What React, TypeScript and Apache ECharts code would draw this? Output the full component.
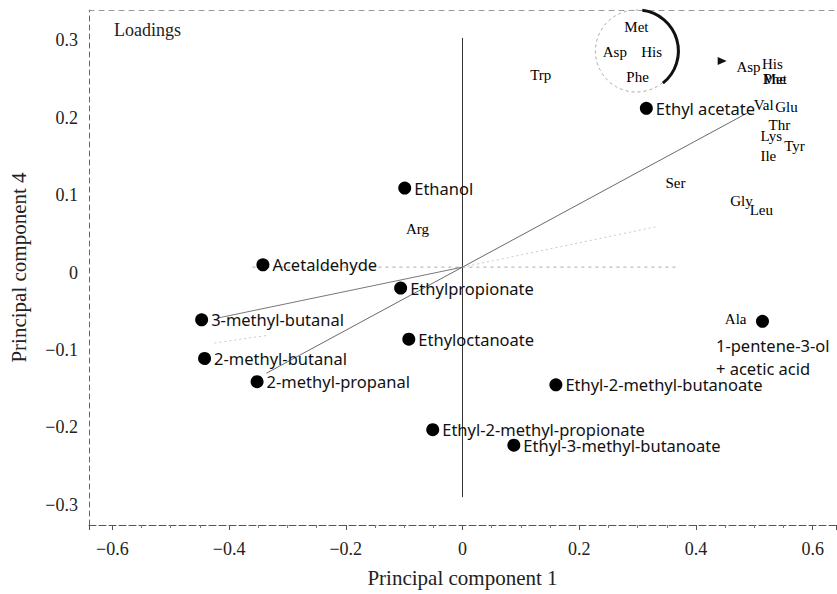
import React, { useEffect, useRef } from "react";
import * as echarts from "echarts";

// Compound loadings (filled dots)
const compoundNames = [
  "Acetaldehyde",
  "Ethanol",
  "Ethyl acetate",
  "Ethylpropionate",
  "3-methyl-butanal",
  "Ethyloctanoate",
  "2-methyl-butanal",
  "2-methyl-propanal",
  "Ethyl-2-methyl-butanoate",
  "Ethyl-2-methyl-propionate",
  "Ethyl-3-methyl-butanoate",
];
const compoundPC1 = [-0.342, -0.099, 0.315, -0.106, -0.447, -0.092, -0.442, -0.352, 0.16, -0.051, 0.088];
const compoundPC4 = [0.01, 0.109, 0.212, -0.02, -0.061, -0.086, -0.111, -0.141, -0.145, -0.203, -0.223];

// point with two-line label below-left
const pentenePoint = { name: "1-pentene-3-ol\n+ acetic acid", pc1: 0.514, pc4: -0.063 };

// Amino acid loadings (text only)
const aminoNames = ["Trp", "Arg", "Ser", "Gly", "Leu", "Val", "Glu", "Thr", "Lys", "Tyr", "Ile", "Asp", "His", "Met", "Phe", "Ala"];
const aminoPC1 = [0.134, -0.077, 0.365, 0.478, 0.512, 0.516, 0.555, 0.543, 0.529, 0.569, 0.524, 0.49, 0.531, 0.535, 0.535, 0.468];
const aminoPC4 = [0.255, 0.056, 0.115, 0.092, 0.081, 0.216, 0.214, 0.19, 0.176, 0.163, 0.15, 0.265, 0.269, 0.25, 0.25, -0.06];

// Magnified inset (circle)
const insetNames = ["Met", "Asp", "His", "Phe"];
const insetPC1 = [0.298, 0.261, 0.324, 0.3];
const insetPC4 = [0.317, 0.285, 0.285, 0.252];
const insetCenter = [0.298, 0.286];
const arrowPoint = [0.445, 0.273];

// Reference lines
const verticalLine = [[0, -0.29], [0, 0.303]];
const zeroLine = [[-0.36, 0.007], [0.37, 0.007]];
const steepLine = [[-0.336, -0.13], [0.488, 0.206]];
const flatLineLeft = [[-0.421, -0.059], [0, 0.007]];
const flatLineRight = [[0, 0.007], [0.331, 0.059]];
const faintLine = [[-0.425, -0.091], [-0.333, -0.081]];

const xRange = [-0.64, 0.64];
const yRange = [-0.326, 0.339];

const serif = "'Liberation Serif', 'Times New Roman', serif";
const sans = "'Noto Sans', sans-serif";

const fmt = (v: number) => {
  const r = Math.round(v * 10) / 10;
  if (Math.abs(r) < 1e-9) return "0";
  return (r < 0 ? "\u2212" : "") + Math.abs(r).toFixed(1);
};

function lineSeries(data: number[][], color: string, width: number, type: any) {
  return {
    type: "line",
    data,
    symbol: "none",
    silent: true,
    lineStyle: { color, width, type },
    z: 1,
  };
}

const textLabel = {
  show: true,
  position: ["50%", "50%"],
  align: "center",
  verticalAlign: "middle",
  formatter: (p: any) => p.name,
  fontFamily: serif,
  fontSize: 15,
  color: "#000",
  textBorderWidth: 0,
  textBorderColor: "#000",
  textShadowBlur: 0,
};

export default function App() {
  const ref = useRef<HTMLDivElement>(null);
  useEffect(() => {
    if (!ref.current) return;
    const chart = echarts.init(ref.current, undefined, { renderer: "svg" });
    const option: any = {
      animation: false,
      backgroundColor: "#fff",
      title: {
        text: "Loadings",
        left: 109,
        top: 16,
        textStyle: { fontFamily: serif, fontSize: 18, fontWeight: "normal", color: "#222" },
      },
      grid: { left: 88, right: 1, top: 10, bottom: 69 },
      xAxis: [
        {
          type: "value",
          min: xRange[0],
          max: xRange[1],
          splitNumber: 6,
          name: "Principal component 1",
          nameLocation: "middle",
          nameGap: 42,
          nameTextStyle: { fontFamily: serif, fontSize: 21, color: "#222" },
          axisLine: { show: true, onZero: false, lineStyle: { color: "#555", width: 1, type: [7, 3] } },
          axisTick: { show: true, length: 5, lineStyle: { color: "#555" } },
          minorTick: { show: true, splitNumber: 4, length: 3, lineStyle: { color: "#777" } },
          splitLine: { show: false },
          axisLabel: {
            showMinLabel: false,
            showMaxLabel: false,
            margin: 15,
            fontFamily: serif,
            fontSize: 18,
            color: "#222",
            formatter: fmt,
          },
        },
        {
          type: "value",
          position: "top",
          min: xRange[0],
          max: xRange[1],
          axisLine: { show: true, onZero: false, lineStyle: { color: "#999", width: 1, type: [5, 5] } },
          axisTick: { show: false },
          axisLabel: { show: false },
          splitLine: { show: false },
        },
      ],
      yAxis: {
        type: "value",
        min: yRange[0],
        max: yRange[1],
        splitNumber: 6,
        name: "Principal component 4",
        nameLocation: "middle",
        nameGap: 60,
        nameTextStyle: { fontFamily: serif, fontSize: 21, color: "#222" },
        axisLine: { show: true, onZero: false, lineStyle: { color: "#666", width: 1, type: [5, 4] } },
        axisTick: { show: false },
        splitLine: { show: false },
        axisLabel: {
          showMinLabel: false,
          showMaxLabel: false,
          margin: 11,
          fontFamily: serif,
          fontSize: 18,
          color: "#222",
          formatter: fmt,
        },
      },
      series: [
        lineSeries(verticalLine, "#333", 1, "solid"),
        lineSeries(zeroLine, "#aaa", 1, [3, 4]),
        lineSeries(steepLine, "#444", 0.8, "solid"),
        lineSeries(flatLineLeft, "#555", 0.8, "solid"),
        lineSeries(flatLineRight, "#bbb", 0.8, [2, 3]),
        lineSeries(faintLine, "#bbb", 0.8, [2, 3]),
        {
          type: "custom",
          silent: true,
          data: [insetCenter],
          z: 2,
          renderItem: (params: any, api: any) => {
            const c = api.coord([api.value(0), api.value(1)]);
            return {
              type: "group",
              children: [
                {
                  type: "circle",
                  shape: { cx: c[0], cy: c[1], r: 41 },
                  style: { fill: "none", stroke: "#aaa", lineWidth: 1, lineDash: [3, 3] },
                },
                {
                  type: "arc",
                  shape: { cx: c[0] + 1, cy: c[1], r: 41, startAngle: -1.45, endAngle: 0.9, clockwise: true },
                  style: { fill: "none", stroke: "#111", lineWidth: 3 },
                },
              ],
            };
          },
        },
        {
          type: "scatter",
          silent: true,
          data: [arrowPoint],
          symbol: "triangle",
          symbolRotate: -90,
          symbolSize: [8, 9],
          itemStyle: { color: "#111", opacity: 1 },
          z: 3,
        },
        {
          type: "scatter",
          silent: true,
          symbol: "circle",
          symbolSize: 13,
          itemStyle: { color: "#000", opacity: 1 },
          data: compoundNames.map((n, i) => ({ name: n, value: [compoundPC1[i], compoundPC4[i]] })),
          label: {
            show: true,
            position: "right",
            distance: 3,
            formatter: (p: any) => p.name,
            fontFamily: sans,
            fontSize: 16.5,
            color: "#111",
          },
          z: 4,
        },
        {
          type: "scatter",
          silent: true,
          symbol: "circle",
          symbolSize: 13,
          itemStyle: { color: "#000", opacity: 1 },
          data: [{ name: pentenePoint.name, value: [pentenePoint.pc1, pentenePoint.pc4] }],
          label: {
            show: true,
            position: [-40, 19],
            align: "left",
            verticalAlign: "top",
            lineHeight: 23,
            formatter: (p: any) => p.name,
            fontFamily: sans,
            fontSize: 16.5,
            color: "#111",
          },
          z: 4,
        },
        {
          type: "scatter",
          silent: true,
          symbolSize: 0.5,
          color: "#000",
          itemStyle: { color: "#000", opacity: 1 },
          data: aminoNames.map((n, i) => ({ name: n, value: [aminoPC1[i], aminoPC4[i]] })),
          label: textLabel,
          z: 4,
        },
        {
          type: "scatter",
          silent: true,
          symbolSize: 0.5,
          color: "#000",
          itemStyle: { color: "#000", opacity: 1 },
          data: insetNames.map((n, i) => ({ name: n, value: [insetPC1[i], insetPC4[i]] })),
          label: textLabel,
          z: 4,
        },
      ],
    };
    chart.setOption(option);
    return () => chart.dispose();
  }, []);
  return (
    <div
      ref={ref}
      style={{ position: "fixed", left: 0, top: 0, width: 837, height: 594, background: "#fff" }}
    />
  );
}
